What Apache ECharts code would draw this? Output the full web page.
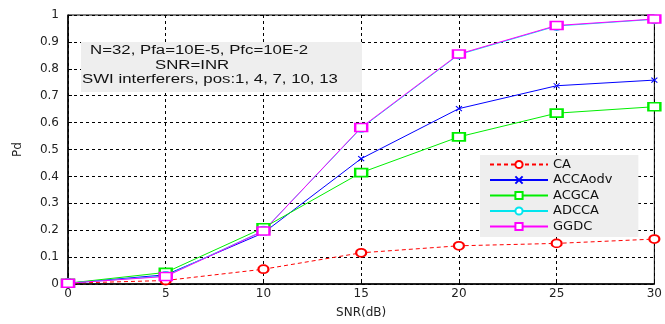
<!DOCTYPE html>
<html>
<head>
<meta charset="utf-8">
<script src="https://cdn.jsdelivr.net/npm/echarts@6/dist/echarts.min.js"></script>
<style>
  html, body { margin: 0; padding: 0; background: #fff; }
  #chart { width: 665px; height: 324px; }
</style>
</head>
<body>
<div id="chart"></div>
<script>
// SNR values on the x axis
const snr = [0, 5, 10, 15, 20, 25, 30];

// Pd per detector
const ca      = [0.003, 0.013, 0.055, 0.116, 0.142, 0.151, 0.167];
const accaodv = [0.003, 0.034, 0.190, 0.466, 0.652, 0.737, 0.758];
const acgca   = [0.003, 0.043, 0.209, 0.414, 0.547, 0.635, 0.659];
const adcca   = [0.003, 0.030, 0.198, 0.580, 0.853, 0.959, 0.984];
const ggdc    = [0.003, 0.028, 0.197, 0.582, 0.855, 0.961, 0.985];

const noteLines = [
  "N=32, Pfa=10E-5, Pfc=10E-2",
  "SNR=INR",
  "SWI interferers, pos:1, 4, 7, 10, 13"
];

const FONT = "DejaVu Sans, Liberation Sans, sans-serif";
const NOTE_FONT = "12px Liberation Sans, Arial, sans-serif";
const X_MARK = "path://M0,0 L10,10 M10,0 L0,10";

function pairs(ys) {
  return snr.map((x, i) => [x, ys[i]]);
}

function lineSeries(name, ys, color, symbol, size, dashed) {
  return {
    name,
    type: "line",
    data: pairs(ys),
    symbol,
    symbolSize: size,
    showSymbol: true,
    lineStyle: { color, width: 1, type: dashed ? [4, 3] : "solid" },
    itemStyle: { color, borderColor: color, borderWidth: 1 },
    emphasis: { disabled: true },
    animation: false
  };
}

function noteText(text, x, y) {
  return {
    type: "text",
    x, y,
    scaleX: 1.4,
    style: { text, font: NOTE_FONT, fill: "#111", verticalAlign: "middle" },
    z: 6
  };
}

const chart = echarts.init(document.getElementById("chart"), null, { renderer: "canvas" });

chart.setOption({
  backgroundColor: "#fff",
  animation: false,
  textStyle: { fontFamily: FONT },
  grid: {
    left: 68, right: 7, top: 15, bottom: 33,
    show: true, borderColor: "#000", borderWidth: 1,
    containLabel: false
  },
  xAxis: {
    type: "value",
    min: 0, max: 30, interval: 5,
    name: "SNR(dB)",
    nameLocation: "middle",
    nameGap: 23,
    nameTextStyle: { color: "#222", fontSize: 12, fontFamily: FONT },
    axisLine: { lineStyle: { color: "#000", width: 1.5 } },
    axisTick: { inside: true, length: 4, lineStyle: { color: "#000" } },
    axisLabel: { color: "#222", fontSize: 12, margin: 4, fontFamily: FONT },
    splitLine: { show: true, lineStyle: { color: "#000", type: [3, 3], width: 1 } }
  },
  yAxis: {
    type: "value",
    min: 0, max: 1, interval: 0.1,
    name: "Pd",
    nameLocation: "middle",
    nameGap: 44,
    nameRotate: 90,
    nameTextStyle: { color: "#222", fontSize: 12, fontFamily: FONT },
    axisLine: { show: true, lineStyle: { color: "#000", width: 1.5 } },
    axisTick: { show: true, inside: true, length: 4, lineStyle: { color: "#000" } },
    axisLabel: {
      color: "#222", fontSize: 12, margin: 9, fontFamily: FONT,
      formatter: (v) => String(Math.round(v * 10) / 10)
    },
    splitLine: { show: true, lineStyle: { color: "#000", type: [3, 3], width: 1 } }
  },
  legend: {
    orient: "vertical",
    left: 480, top: 155,
    backgroundColor: "#eeeeee",
    padding: [3, 26, 4, 9],
    itemWidth: 58,
    itemHeight: 9,
    itemGap: 2.5,
    textStyle: { color: "#111", fontSize: 13, lineHeight: 10, fontFamily: FONT },
    data: ["CA", "ACCAodv", "ACGCA", "ADCCA", "GGDC"]
  },
  graphic: [
    {
      type: "rect",
      left: 81, top: 42,
      shape: { width: 281, height: 50 },
      style: { fill: "#eeeeee" },
      z: 5
    },
    noteText(noteLines[0], 90, 51),
    noteText(noteLines[1], 155, 66),
    noteText(noteLines[2], 82, 80)
  ],
  series: [
    lineSeries("CA", ca, "#ff0000", "emptyCircle", [10, 8], true),
    lineSeries("ACCAodv", accaodv, "#0000ff", X_MARK, [6, 5], false),
    lineSeries("ACGCA", acgca, "#00ee00", "emptyRect", [12, 8], false),
    lineSeries("ADCCA", adcca, "#00e5ee", "emptyCircle", [10, 8], false),
    lineSeries("GGDC", ggdc, "#ff00ff", "emptyRect", [12, 8], false)
  ]
});
</script>
</body>
</html>
